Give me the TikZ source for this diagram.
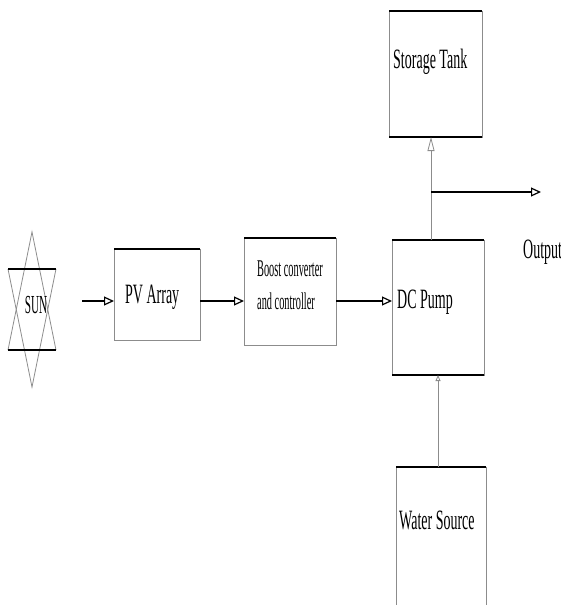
\documentclass[tikz,border=0pt]{standalone}
\usepackage{fontspec}
\usetikzlibrary{arrows.meta}
\newfontfamily\tallserif[FakeStretch=0.5]{Liberation Serif}
\newfontfamily\slimserif[FakeStretch=0.43]{Liberation Serif}
\tikzset{
	unit/.style={draw=black!45, line width=0.8pt, inner sep=0pt, outer sep=0pt},
	rim/.style={line width=1.6pt, black},
	tag/.style={inner sep=0pt, anchor=base west, font=\tallserif\fontsize{28}{30}\selectfont},
	feed/.style={line width=1.2pt, -{Triangle[open, length=10pt, width=9pt]}},
	rise/.style={draw=black!45, line width=0.8pt},
}

\begin{document}
\begin{tikzpicture}[x=1pt, y=-1pt]
		%%%%% START %%%%%
		\useasboundingbox (0, 0) rectangle (561, 605);
		
		% sun
		\draw[rise] (8, 350) -- (32, 232) -- (56, 350);
		\draw[rise] (8, 269) -- (32, 387) -- (56, 269);
		\draw[rim] (8, 269) -- (56, 269);
		\draw[rim] (8, 350) -- (56, 350);
		\node[inner sep=0pt, font=\slimserif\fontsize{26}{28}\selectfont] (sun) at (36, 305) {SUN};
		\coordinate (sunray) at (82, 301);
		
		% blocks
		\node[unit, minimum width=86, minimum height=91] (pv) at (157, 294.5) {};
		\node[tag] (pvtext) at (125, 303) {PV Array};
		\draw[rim] (pv.north west) -- (pv.north east);
		
		\node[unit, minimum width=92, minimum height=107] (boost) at (290, 291.5) {};
		\node[tag, font=\slimserif\fontsize{24}{33}\selectfont, align=left] (boosttext) at (257, 309) {Boost converter\\and controller};
		\draw[rim] (boost.north west) -- (boost.north east);
		
		\node[unit, minimum width=92, minimum height=135] (pump) at (438, 307.5) {};
		\node[tag] (pumptext) at (397, 308) {DC Pump};
		\draw[rim] (pump.north west) -- (pump.north east);
		\draw[rim] (pump.south west) -- (pump.south east);
		
		\node[unit, minimum width=93, minimum height=126] (tank) at (435.5, 74) {};
		\node[tag] (tanktext) at (393, 68) {Storage Tank};
		\draw[rim] (tank.north west) -- (tank.north east);
		\draw[rim] (tank.south west) -- (tank.south east);
		
		\node[unit, minimum width=90, minimum height=148] (water) at (441, 541) {};
		\node[tag] (watertext) at (399, 529) {Water Source};
		\draw[rim] (water.north west) -- (water.north east);
		
		\node[tag] (outtext) at (523, 258) {Output};
		
		% flow
		\draw[feed] (sunray) -- (sunray -| pv.west);
		\draw[feed] (pv.east |- sunray) -- (boost.west |- sunray);
		\draw[feed] (boost.east |- sunray) -- (pump.west |- sunray);
		
		\coordinate (tee) at (431, 192);
		\coordinate (outtip) at (541, 192);
		\draw[rise] (pump.north -| tee) -- (tee);
		\draw[rise, -{Triangle[open, length=14pt, width=7pt]}] (tee) -- (tank.south -| tee);
		\draw[feed] (tee) -- (outtip);
		
		\coordinate (inlet) at (438, 467);
		\draw[rise, -{Triangle[open, length=6pt, width=5pt]}] (inlet) -- (inlet |- pump.south);
		%%%%% END %%%%%
\end{tikzpicture}
\end{document}
